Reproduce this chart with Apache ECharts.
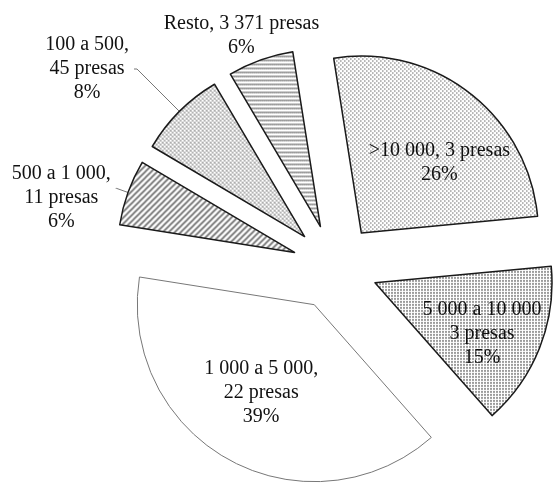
<!DOCTYPE html>
<html>
<head>
<meta charset="utf-8">
<script src="https://cdn.jsdelivr.net/npm/echarts@6/dist/echarts.min.js"></script>
<style>
html, body { margin: 0; padding: 0; background: #fff; }
#pieChart { width: 555px; height: 483px; }
</style>
</head>
<body>
<div id="pieChart"></div>
<script>
// datos
let rangos = ['>10 000', '5 000 a 10 000', '1 000 a 5 000', '500 a 1 000', '100 a 500', 'Resto'];
let presas = ['3', '3', '22', '11', '45', '3 371'];
let porcentajes = [26, 15, 39, 6, 8, 6];

let pieChart = echarts.init(document.querySelector('#pieChart'));

function makePattern(w, h, draw) {
  let c = document.createElement('canvas');
  c.width = w;
  c.height = h;
  let ctx = c.getContext('2d');
  ctx.fillStyle = '#fff';
  ctx.fillRect(0, 0, w, h);
  draw(ctx);
  return { image: c, repeat: 'repeat' };
}

// tramas de cada sector
let patterns = [
  makePattern(4, 4, ctx => {
    ctx.fillStyle = '#8a8a8a';
    ctx.fillRect(0, 0, 1, 2);
    ctx.fillRect(2, 2, 1, 2);
  }),
  makePattern(3, 3, ctx => {
    ctx.fillStyle = '#9c9c9c';
    ctx.fillRect(0, 0, 2, 2);
  }),
  null,
  makePattern(6, 6, ctx => {
    ctx.strokeStyle = '#6a6a6a';
    ctx.lineWidth = 1.6;
    ctx.beginPath();
    ctx.moveTo(0, 6); ctx.lineTo(6, 0);
    ctx.moveTo(-1, 1); ctx.lineTo(1, -1);
    ctx.moveTo(5, 7); ctx.lineTo(7, 5);
    ctx.stroke();
  }),
  makePattern(4, 4, ctx => {
    ctx.fillStyle = '#b4b4b4';
    ctx.fillRect(0, 0, 2, 2);
    ctx.fillRect(2, 2, 2, 2);
    ctx.fillStyle = '#8c8c8c';
    ctx.fillRect(1, 1, 1, 1);
  }),
  makePattern(4, 4, ctx => {
    ctx.fillStyle = '#8e8e8e';
    ctx.fillRect(0, 0, 4, 1);
    ctx.fillStyle = '#6e6e6e';
    ctx.fillRect(1, 1, 1, 1);
    ctx.fillRect(3, 1, 1, 1);
  })
];

// forma de cada etiqueta y su ajuste
let labelForm = ['join', 'plain', 'comma', 'comma', 'comma', 'join'];
let labelPos = ['inside', 'inside', 'inside', 'outside', 'outside', 'inside'];
let labelShift = [[22, 2], [22, 17], [-9, 8], [0, 9], null, [-48, -105]];
let lineLen = [null, null, null, [12, 1], [60, 3], null];

function labelText(i) {
  let lines;
  if (labelForm[i] === 'join') {
    lines = [rangos[i] + ', ' + presas[i] + ' presas'];
  } else if (labelForm[i] === 'plain') {
    lines = [rangos[i], presas[i] + ' presas'];
  } else {
    lines = [rangos[i] + ',', presas[i] + ' presas'];
  }
  lines.push(porcentajes[i] + '%');
  return lines.map(s => '{c|' + s + '}').join('\n');
}

let pieData = [];
for (let i = 0; i < rangos.length; i++) {
  let item = {
    name: rangos[i],
    value: porcentajes[i],
    selected: true,
    itemStyle: patterns[i] ? {
      color: patterns[i],
      borderColor: '#1a1a1a',
      borderWidth: 1.5
    } : {
      color: '#fff',
      borderColor: '#777',
      borderWidth: 1
    },
    label: { position: labelPos[i] },
    labelLine: { show: false }
  };
  if (lineLen[i]) {
    item.labelLine = { show: true, length: lineLen[i][0], length2: lineLen[i][1] };
  }
  pieData.push(item);
}

let option = {
  animation: false,
  series: [{
    type: 'pie',
    center: [335, 267],
    radius: 177,
    startAngle: 99,
    clockwise: true,
    selectedMode: 'multiple',
    selectedOffset: 43,
    avoidLabelOverlap: false,
    emphasis: { disabled: true },
    label: {
      show: true,
      color: '#111',
      fontFamily: 'Liberation Serif',
      fontSize: 20,
      lineHeight: 24,
      formatter: params => labelText(params.dataIndex),
      rich: {
        c: {
          align: 'center',
          color: '#111',
          fontFamily: 'Liberation Serif',
          fontSize: 20,
          lineHeight: 24
        }
      }
    },
    labelLine: {
      lineStyle: { color: '#777', width: 1 }
    },
    labelLayout: params => {
      let s = labelShift[params.dataIndex];
      return s ? { dx: s[0], dy: s[1] } : {};
    },
    data: pieData
  }]
};
pieChart.setOption(option);
</script>
</body>
</html>
